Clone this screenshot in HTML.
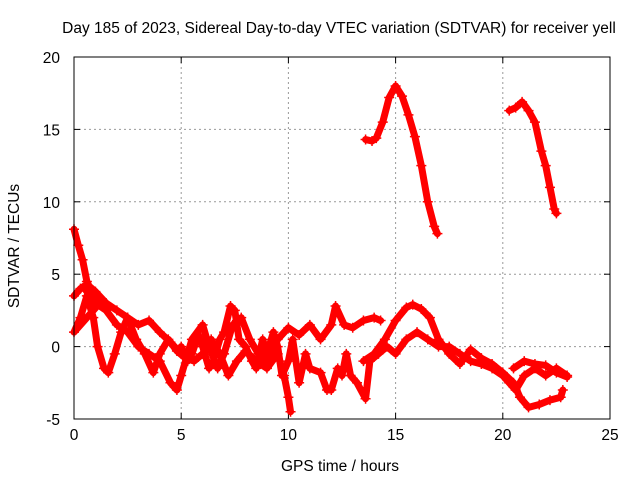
<!DOCTYPE html>
<html><head><meta charset="utf-8"><style>
body{margin:0;background:#fff}
svg text{font-family:"Liberation Sans",sans-serif;font-size:15.5px;fill:#000}
</style></head><body>
<svg id="chart" width="640" height="480">
<text x="339" y="33" text-anchor="middle">Day 185 of 2023, Sidereal Day-to-day VTEC variation (SDTVAR) for receiver yell</text>
<text x="340" y="471" text-anchor="middle">GPS time / hours</text>
<text transform="translate(19,246) rotate(-90)" text-anchor="middle">SDTVAR / TECUs</text>
<g id="grid"></g><g id="ticks"></g><g id="series"></g>
<rect x="74" y="57" width="536" height="362" fill="none" stroke="#000"/>
</svg>
<script>
const xTicks=[0,5,10,15,20,25];
const yTicks=[-5,0,5,10,15,20];
const track1=[[0,3.5],[0.3,4],[0.6,4.3],[1,3.8],[1.5,3],[2,2.5],[2.5,2],[3,1.5],[3.5,1.8],[4,1],[4.5,0.3],[5,-0.5]];
const track2=[[0,8.1],[0.2,7],[0.4,6],[0.6,4.5],[0.9,3.5],[1.2,3],[0,1],[0.3,2],[0.6,3.5],[0.9,2],[1.1,0],[1.4,-1.5],[1.6,-1.8],[1.9,-0.5],[2.2,1],[2.5,2],[2.9,0.5],[3.3,-0.5],[3.7,-1.8],[4,-0.5],[4.4,0.5],[4.8,-0.3],[5.2,-0.8],[5.6,-1],[6,-0.5],[6.4,0.5],[6.8,-0.5],[7.2,-2],[7.6,-1],[8,-0.3],[8.5,-1],[9,-1.5],[9.5,-0.5],[9.8,-2],[10,-3.5],[10.1,-4.5]];
const track3=[[0.5,4],[1,3],[1.5,2.5],[2,1.5],[2.5,1],[3,0],[3.5,-0.5],[4,-1],[4.5,-2.5],[4.8,-3],[5,-2],[5.5,0.5],[6,1.5],[6.3,0],[6.7,-1.5],[7,-0.5],[7.4,1.5],[7.8,2],[8.2,0.5],[8.6,-0.5],[9,-1],[9.5,0.5],[10,1.3],[10.5,0.8],[11,1.5],[11.5,0.5],[12,1.5],[12.2,2.8],[12.6,1.5],[13,1.3],[13.5,1.8],[14,2],[14.3,1.8]];
const track4=[[5,0],[5.3,-1],[5.5,-0.5],[5.8,0.8],[6,0],[6.3,-1.5],[6.5,-1],[6.8,0.5],[7,1],[7.3,2.8],[7.5,2.5],[7.7,0.5],[8,0],[8.3,-1],[8.5,-1.5],[8.8,0.5],[9,-0.5],[9.3,1],[9.5,0],[9.7,-2],[10,-1],[10.2,0.5],[10.5,-2.5],[10.8,-0.5],[11,-1.5],[11.5,-1.8],[11.8,-3],[12,-3],[12.3,-1.5],[12.5,-2],[12.7,-0.5],[12.9,-2],[13.2,-2.5],[13.6,-3.6],[13.8,-1],[14.2,-0.5],[14.6,0],[15,-0.5],[15.5,0.5],[16,1],[16.5,0.5],[17,0],[17.5,0],[18,-0.5],[18.5,-1],[19,-1.2],[19.5,-1.5],[20,-2],[20.3,-2.5],[20.6,-3],[21,-2],[21.5,-1.5],[22,-2],[22.5,-1.5],[23,-2]];
const track5=[[13.5,-1],[14,-0.5],[14.5,0.5],[15,1.8],[15.5,2.7],[15.8,2.9],[16.2,2.6],[16.6,2],[17,0.5],[17.5,-0.5],[18,-1.2],[18.5,-0.2],[19,-0.8],[19.5,-1.2],[20,-1.8],[20.5,-2.5],[20.8,-3.5],[21.2,-4.2],[21.7,-4],[22.2,-3.7],[22.7,-3.5],[22.8,-3]];
const track6=[[20.5,-1.5],[21,-1],[21.5,-1.2],[22,-1.3],[22.5,-1.8],[23,-2.1]];
const track7=[[13.6,14.3],[13.9,14.2],[14.1,14.4],[14.4,15.5],[14.7,17.2],[15,18],[15.3,17.3],[15.6,16],[15.9,14.5],[16.2,12.5],[16.5,10],[16.8,8.3],[16.95,7.8]];
const track8=[[20.3,16.3],[20.6,16.5],[20.9,16.9],[21.2,16.3],[21.5,15.5],[21.8,13.5],[22,12.5],[22.2,11],[22.4,9.5],[22.5,9.2]];
const tracks=[track1,track2,track3,track4,track5,track6,track7,track8];
const NS="http://www.w3.org/2000/svg";
const L=74,R=610,T=57,B=419;
const X=t=>L+(t-0)/25*(R-L);
const Y=v=>B-(v+5)/25*(B-T);
const grid=document.getElementById('grid'),ticks=document.getElementById('ticks'),ser=document.getElementById('series');
function mk(tag,at,parent){const e=document.createElementNS(NS,tag);for(const k in at)e.setAttribute(k,at[k]);parent.appendChild(e);return e;}
xTicks.forEach(t=>{const x=X(t);
 if(t>0&&t<25){const g=mk('line',{x1:x,x2:x,y1:T,y2:B,stroke:'#999','stroke-dasharray':'2,3'},grid);
 
 }
 mk('line',{x1:x,x2:x,y1:B,y2:B-6,stroke:'#000'},ticks);mk('line',{x1:x,x2:x,y1:T,y2:T+6,stroke:'#000'},ticks);
 const tx=mk('text',{x:x,y:B+21,'text-anchor':'middle'},ticks);tx.textContent=t;
 
 });
yTicks.forEach(v=>{const y=Y(v);
 if(v>-5&&v<20){const g=mk('line',{x1:L,x2:R,y1:y,y2:y,stroke:'#999','stroke-dasharray':'2,3'},grid);
 
 }
 mk('line',{x1:L,x2:L+6,y1:y,y2:y,stroke:'#000'},ticks);mk('line',{x1:R,x2:R-6,y1:y,y2:y,stroke:'#000'},ticks);
 const tx=mk('text',{x:L-14,y:y+6,'text-anchor':'end'},ticks);tx.textContent=v;
 
 });
tracks.forEach((tr,i)=>{
 const g=mk('g',{},ser);
 
 
 mk('polyline',{points:tr.map(p=>X(p[0])+','+Y(p[1])).join(' '),fill:'none',stroke:'#f00','stroke-width':7,'stroke-linejoin':'round','stroke-linecap':'round'},g);
 tr.forEach(p=>{const x=X(p[0]),y=Y(p[1]);
  mk('path',{d:`M${x-5},${y}H${x+5}M${x},${y-5}V${y+5}`,stroke:'#f00','stroke-width':1.5},g);});
});
</script>
</body></html>
